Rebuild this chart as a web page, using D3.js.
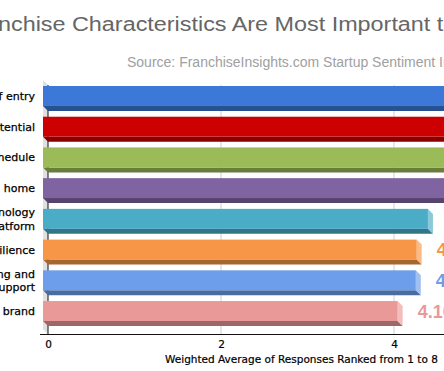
<!DOCTYPE html>
<html lang="en">
<head>
    <meta charset="UTF-8">
    <title>Franchise Characteristics</title>
    <script src="https://d3js.org/d3.v7.min.js"></script>
    <style>
        body, html {
            margin: 0;
            padding: 0;
            width: 100%;
            height: 100%;
            overflow: hidden;
            background: #fff;
        }
    </style>
</head>
<body>
    <svg id="chart" width="444" height="371"></svg>
    <script>
        // data (top four bars run past the crop)
        const categories = [
            ["Low cost of entry"],
            ["Earning potential"],
            ["Flexible schedule"],
            ["Work from home"],
            ["Technology", "platform"],
            ["Recession resilience"],
            ["Training and", "support"],
            ["Recognized brand"]
        ];
        const values = [5.45, 5.2, 5.0, 4.85, 4.45, 4.32, 4.31, 4.10];
        const colors = ["#3c78d8", "#cc0000", "#9bbb59", "#8064a2", "#4bacc6", "#f79646", "#6d9eeb", "#ea9999"];
        const xTicks = [0, 2, 4, 6, 8];
        const titleText = "Which Franchise Characteristics Are Most Important to Startups?";

        const depth = 5; // 3d offset, px
        const svg = d3.select("#chart");

        const x = d3.scaleLinear().domain([0, 8]).range([48, 740]);
        const y = d3.scaleBand()
            .domain(d3.range(categories.length))
            .range([86, 321])
            .paddingInner(0.35)
            .paddingOuter(0);
        const bh = y.bandwidth();
        const bottomY = 334;
        const topY = 80;

        // side wall
        svg.append("polygon")
            .attr("points", [[x(0) - depth, topY], [x(0), topY + depth], [x(0), bottomY], [x(0) - depth, bottomY - depth]].join(" "))
            .attr("fill", "#e0e0e0");

        // gridlines
        svg.selectAll(".grid")
            .data(xTicks.filter(d => d > 0))
            .enter().append("line")
            .attr("x1", d => x(d)).attr("x2", d => x(d))
            .attr("y1", topY + depth).attr("y2", bottomY)
            .attr("stroke", "#cfcfcf");

        // axis lines
        svg.append("line")
            .attr("x1", x(0)).attr("x2", x(0))
            .attr("y1", topY + depth).attr("y2", bottomY)
            .attr("stroke", "#111");
        svg.append("line")
            .attr("x1", x(0) - 8).attr("x2", 444)
            .attr("y1", bottomY + 0.5).attr("y2", bottomY + 0.5)
            .attr("stroke", "#111");

        // bars
        const bars = svg.selectAll(".bar")
            .data(values)
            .enter().append("g");

        bars.append("polygon") // bottom face
            .attr("points", (d, i) => {
                const t = y(i) + bh, x0 = x(0) - depth, x1 = x(d) - depth;
                return [[x0, t], [x1, t], [x1 + depth, t + depth], [x0 + depth, t + depth]].join(" ");
            })
            .attr("fill", (d, i) => d3.color(colors[i]).darker(1.1));

        bars.append("polygon") // right face
            .attr("points", (d, i) => {
                const t = y(i), x1 = x(d) - depth;
                return [[x1, t], [x1 + depth, t + depth], [x1 + depth, t + bh + depth], [x1, t + bh]].join(" ");
            })
            .attr("fill", (d, i) => d3.interpolateRgb(colors[i], "#fff")(0.35));

        bars.append("rect") // front face
            .attr("x", x(0) - depth)
            .attr("y", (d, i) => y(i))
            .attr("width", d => x(d) - x(0))
            .attr("height", bh)
            .attr("fill", (d, i) => colors[i]);

        // value labels
        svg.selectAll(".val")
            .data(values)
            .enter().append("text")
            .attr("x", d => x(d) + 15)
            .attr("y", (d, i) => y(i) + bh / 2 + 6.5)
            .attr("fill", (d, i) => colors[i])
            .style("font-family", "'Liberation Sans', Arial, sans-serif")
            .style("font-size", "18px")
            .style("font-weight", "bold")
            .text(d => d.toFixed(2));

        // category labels
        const cat = svg.selectAll(".cat")
            .data(categories)
            .enter().append("text")
            .attr("text-anchor", "end")
            .attr("fill", "#000")
            .attr("stroke", "#000")
            .attr("stroke-width", 0.25)
            .style("font-family", "'DejaVu Sans', sans-serif")
            .style("font-size", "11px");
        cat.selectAll("tspan")
            .data((d, i) => d.map((line, j) => ({ line, j, n: d.length, i })))
            .enter().append("tspan")
            .attr("x", 35)
            .attr("y", d => y(d.i) + bh / 2 + 4 + (d.j - (d.n - 1) / 2) * 13.5)
            .text(d => d.line);

        // x axis tick labels
        const axis = svg.append("g")
            .attr("transform", `translate(0,${bottomY})`)
            .call(d3.axisBottom(x).tickValues(xTicks).tickSize(0).tickPadding(7));
        axis.select(".domain").remove();
        axis.selectAll("text")
            .attr("fill", "#000")
            .attr("stroke", "#000")
            .attr("stroke-width", 0.2)
            .style("font-family", "'DejaVu Sans', sans-serif")
            .style("font-size", "10.5px");

        svg.append("text")
            .attr("x", 165)
            .attr("y", 363)
            .attr("fill", "#000")
            .attr("stroke", "#000")
            .attr("stroke-width", 0.2)
            .style("font-family", "'DejaVu Sans', sans-serif")
            .style("font-size", "10.5px")
            .text("Weighted Average of Responses Ranked from 1 to 8");

        // title is cut by the picture: the "n" of Franchise sits at the left edge,
        // the "t" of "to" near the right edge, the text is a little wide so it is scaled on x
        const title = svg.append("text")
            .attr("x", 0)
            .attr("y", 31)
            .attr("fill", "#666")
            .style("font-family", "'Liberation Sans', Arial, sans-serif")
            .style("font-size", "19.5px")
            .text(titleText);
        const tnode = title.node();
        const nx = tnode.getStartPositionOfChar(titleText.indexOf("nchise")).x;
        const tx = tnode.getStartPositionOfChar(titleText.indexOf(" to ") + 1).x;
        const sx = 439 / (tx - nx);
        title.attr("transform", `translate(-2,0) scale(${sx},1) translate(${-nx},0)`);

        svg.append("text")
            .attr("x", 127)
            .attr("y", 67)
            .attr("fill", "#a0a0a0")
            .style("font-family", "'Liberation Sans', Arial, sans-serif")
            .style("font-size", "14px")
            .text("Source: FranchiseInsights.com Startup Sentiment Index");
    </script>
</body>
</html>
